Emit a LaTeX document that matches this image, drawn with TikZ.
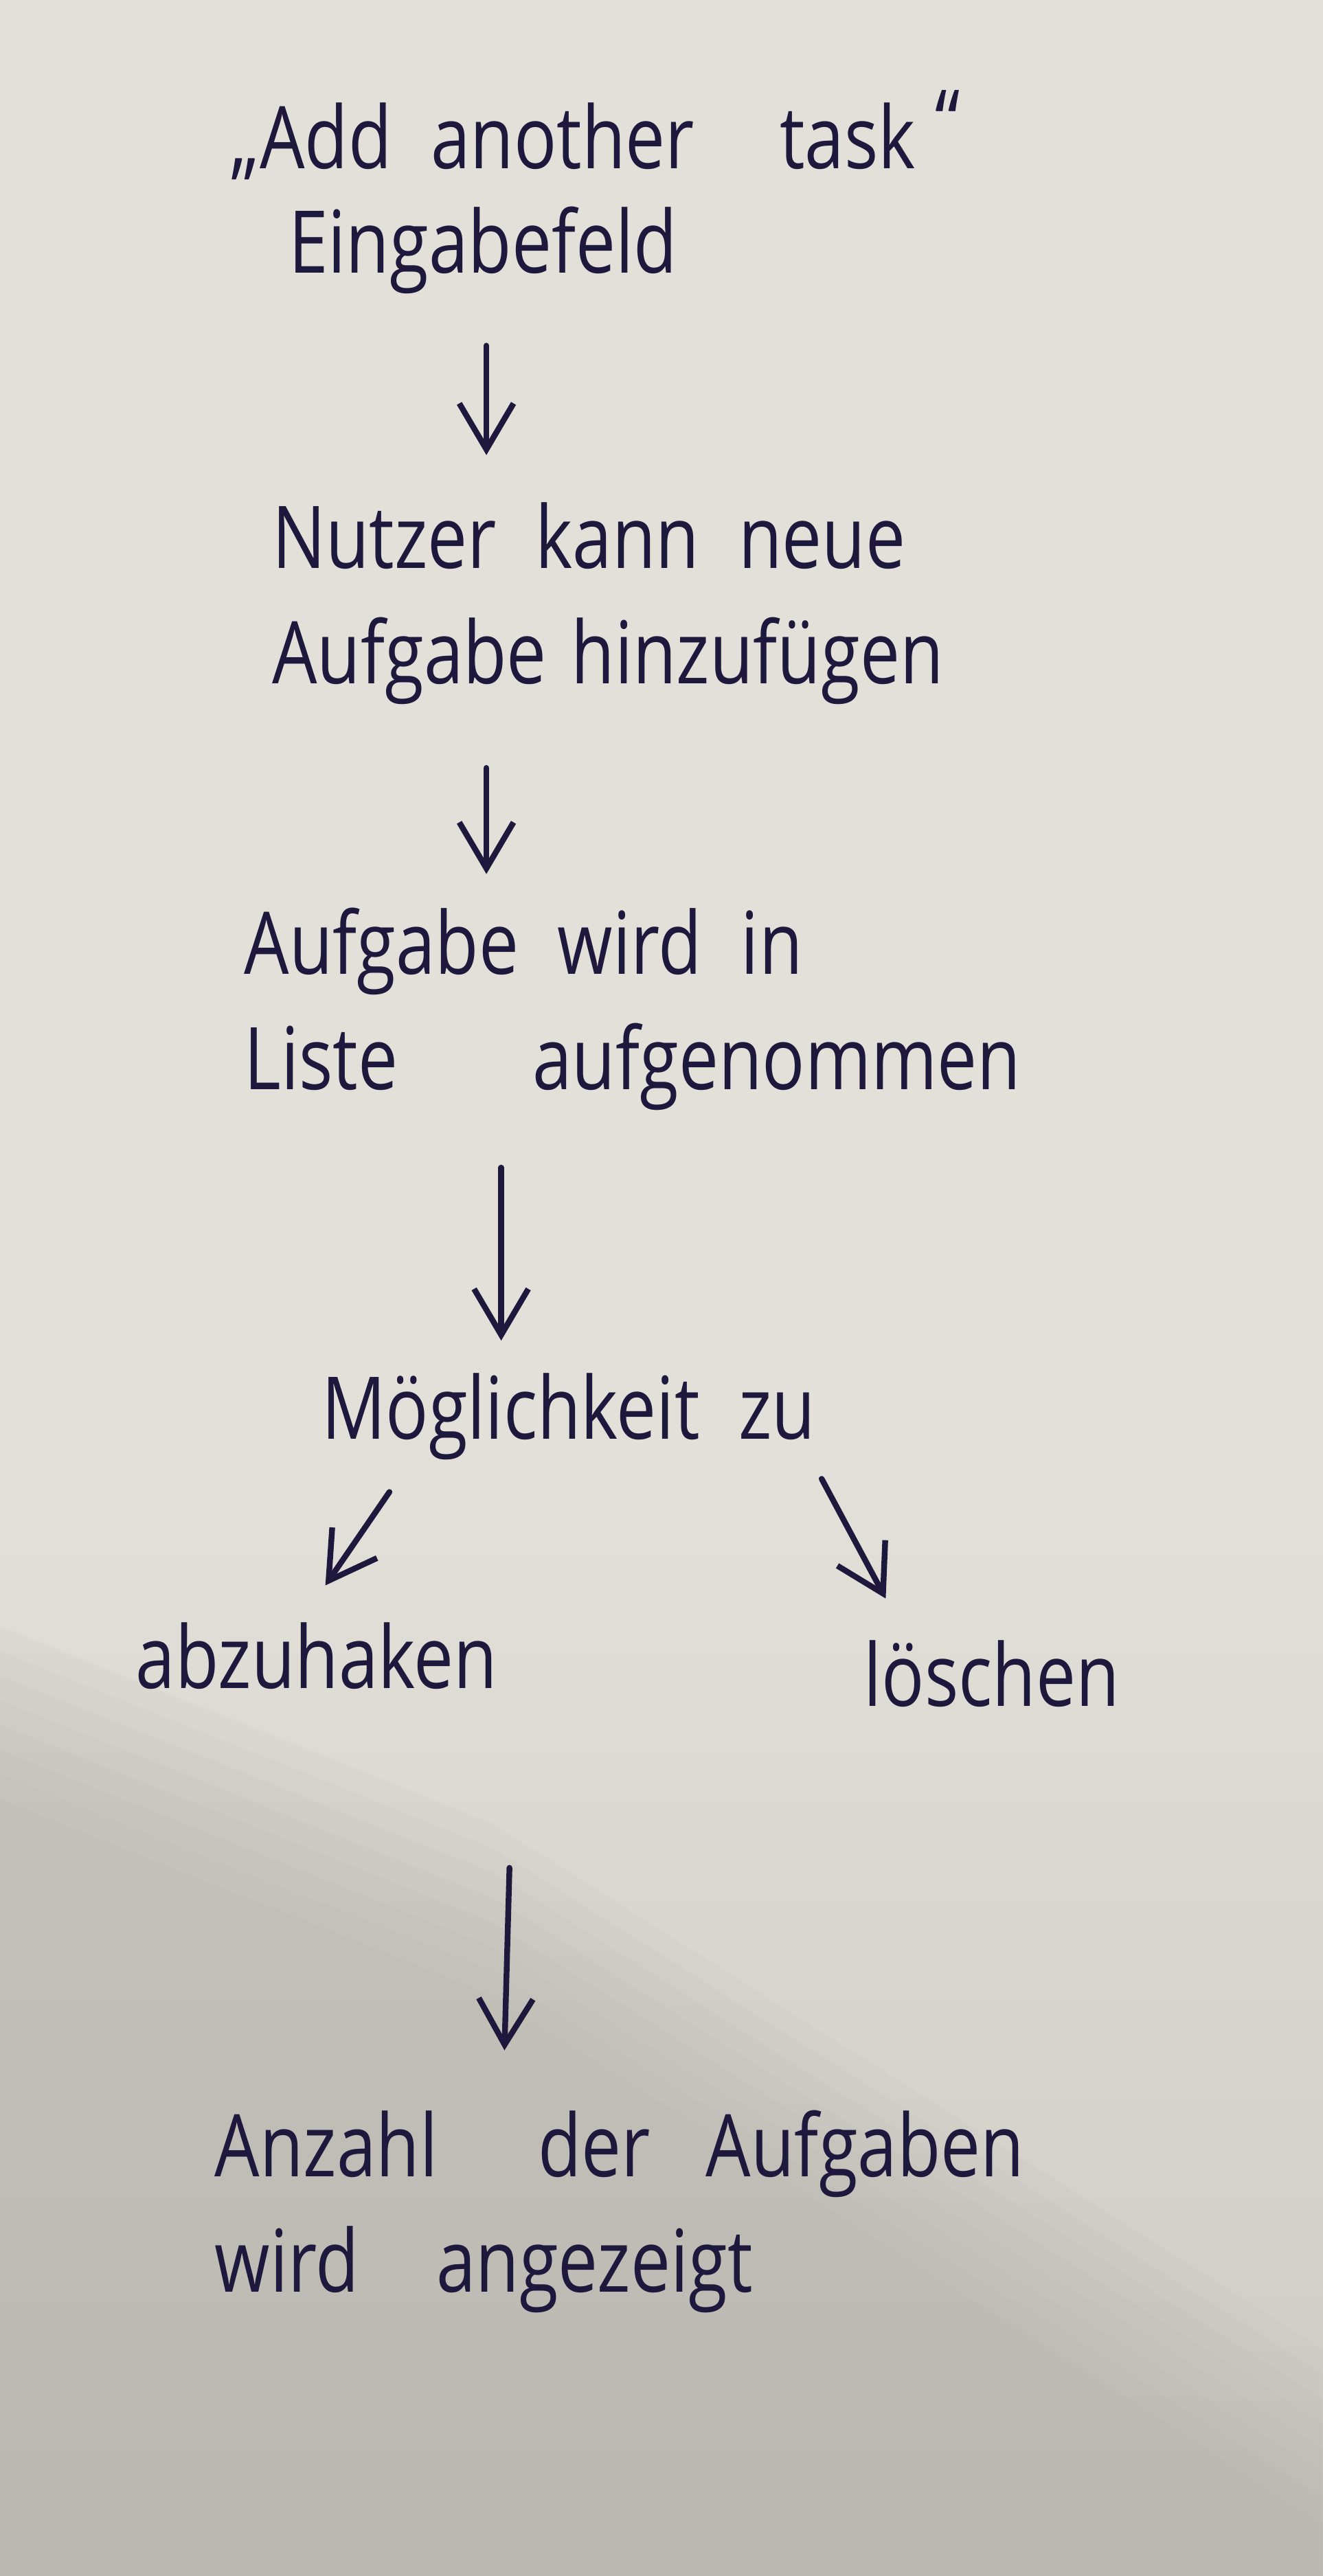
\documentclass[tikz,border=0pt]{standalone}
\usepackage{fontspec}
\newfontfamily\handschrift[FakeStretch=0.82]{Open Sans}
\usepackage{tikz}
\usetikzlibrary{arrows.meta}

\definecolor{papier}{RGB}{226,224,217}
\definecolor{schatten}{RGB}{178,175,168}
\definecolor{tinte}{RGB}{30,24,60}
\newcommand{\handtext}{\handschrift\fontsize{15}{20}\selectfont\spaceskip=0.45em\relax}

\begin{document}
\begin{tikzpicture}[x=0.1mm,y=-0.1mm]
	\tikzstyle{schritt}=[anchor=north west,inner sep=0pt,align=left,text=tinte,font=\handtext]
	\tikzstyle{pfeil}=[draw=tinte,-{Straight Barb[length=2.8mm,width=3.3mm]},line width=1pt,line cap=round]
	
	% Papier mit Schatten unten links
	\useasboundingbox (0,0) rectangle (805,1568);
	\fill[papier] (0,0) rectangle (805,1568);
	\shade[top color=papier,bottom color=schatten!45!papier] (0,900) rectangle (805,1568);
	\foreach \d in {0,15,...,105}
		\fill[schatten,opacity=0.09] (0,990+\d) -- (300,1110+\d) -- (805,1430+\d) -- (805,1568) -- (0,1568) -- cycle;
	
	\node[schritt] (eingabe) at (140,62) {„Add another\hspace{5.2mm}task\hspace{1.2mm}\smash{\raisebox{1mm}{“}}\\[-2pt]\hspace*{3.5mm}Eingabefeld};
	\node[schritt] (hinzu) at (165,305) {Nutzer kann neue\\Aufgabe\hspace{1.5mm}hinzufügen};
	\node[schritt] (liste) at (148,552) {Aufgabe wird in\\Liste\hspace{8.2mm}aufgenommen};
	\node[schritt] (moeglich) at (195,835) {Möglichkeit zu};
	\node[schritt] (abhaken) at (82,987) {abzuhaken};
	\node[schritt] (loeschen) at (525,998) {löschen};
	\node[schritt] (anzahl) at (130,1284) {Anzahl\hspace{6.1mm}der\hspace{3.4mm}Aufgaben\\wird\hspace{4.7mm}angezeigt};
	
	\coordinate (k_1) at (296,0);
	\coordinate (k_3) at (305,0);
	\coordinate (k_4o) at (313,0);
	\coordinate (k_4u) at (306,0);
	
	\path
	(eingabe.south -| k_1) edge [pfeil, shorten <=3.1mm, shorten >=2.8mm] (hinzu.north -| k_1)
	(hinzu.south -| k_1) edge [pfeil, shorten <=3.8mm, shorten >=2mm] (liste.north -| k_1)
	(liste.south -| k_3) edge [pfeil, shorten <=3.4mm, shorten >=1.9mm] (moeglich.north -| k_3)
	
	([shift={(42,19)}]moeglich.south west) edge [pfeil] ([shift={(116,-22)}]abhaken.north west)
	([shift={(305,11)}]moeglich.south west) edge [pfeil] ([shift={(14,-25)}]loeschen.north west)
	
	(abhaken.south -| k_4o) edge [pfeil, shorten <=10.8mm, shorten >=3.6mm] (anzahl.north -| k_4u);
	
\end{tikzpicture}
\end{document}
